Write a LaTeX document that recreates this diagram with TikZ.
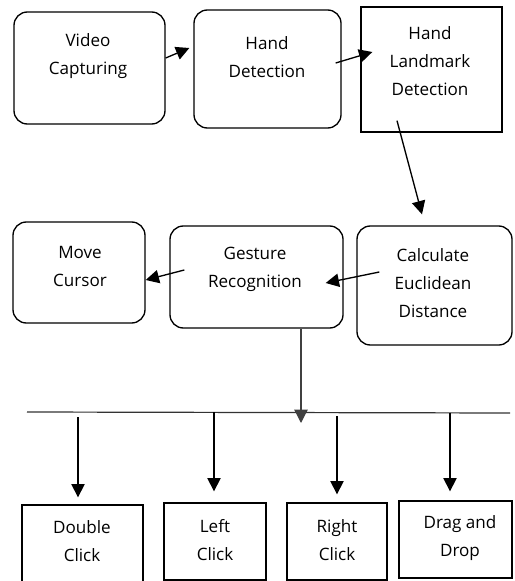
\documentclass[tikz,border=0pt]{standalone}
\usepackage{fontspec}
\setmainfont{Open Sans}
\usetikzlibrary{arrows.meta,calc}
\begin{document}
\begin{tikzpicture}[x=0.75pt,y=-0.75pt,
  box/.style={draw,line width=1pt,inner sep=0pt},
  rbox/.style={box,rounded corners=10pt},
  txt/.style={align=center,font=\fontsize{12.8}{21}\selectfont,inner sep=0pt},
  arr/.style={line width=1pt,-{Triangle[length=10pt,width=10pt]}},
  bus/.style={line width=0.9pt,draw=black!80}]
\useasboundingbox (0,0) rectangle (514,581);
\begin{scope}
\clip (0,0) rectangle (514,581);
% boxes
\node[rbox,minimum width=151*0.75pt,minimum height=112*0.75pt] (vc) at (89.5,68) {};
\node[rbox,minimum width=147*0.75pt,minimum height=118*0.75pt] (hd) at (267.5,69) {};
\node[box,minimum width=141*0.75pt,minimum height=125*0.75pt] (hl) at (431.5,69.5) {};
\node[rbox,minimum width=132*0.75pt,minimum height=101*0.75pt] (mc) at (79,272.5) {};
\node[rbox,minimum width=173*0.75pt,minimum height=102*0.75pt] (gr) at (256.5,277) {};
\node[rbox,minimum width=155*0.75pt,minimum height=119*0.75pt] (ce) at (434.5,285.5) {};
\node[box,minimum width=121*0.75pt,minimum height=80*0.75pt] (dc) at (82.5,545) {};
\node[box,minimum width=102*0.75pt,minimum height=77*0.75pt] (lc) at (215,541.5) {};
\node[box,minimum width=100*0.75pt,minimum height=77*0.75pt] (rc) at (337,541.5) {};
\node[box,minimum width=113*0.75pt,minimum height=77*0.75pt] (dd) at (455.5,539.5) {};
% texts
\node[txt] (tvc) at (88,56) {Video\\Capturing};
\node[txt] (thd) at (267,57) {Hand\\Detection};
\node[txt] (thl) at (430,61) {Hand\\Landmark\\Detection};
\node[txt] (tmc) at (80,266) {Move\\Cursor};
\node[txt] (tgr) at (255,269) {Gesture\\Recognition};
\node[txt] (tce) at (433,283) {Calculate\\Euclidean\\Distance};
\node[txt] (tdc) at (82,541) {Double\\Click};
\node[txt] (tlc) at (215,540) {Left\\Click};
\node[txt] (trc) at (337,540) {Right\\Click};
\node[txt] (tdd) at (460,538) {Drag and\\Drop};
% bus
\coordinate (busL) at (27,412);
\coordinate (busR) at (510,413);
\draw[bus] (busL) -- (busR);
\coordinate (b1) at (78,417);
\coordinate (b2) at (214,412);
\coordinate (b3) at (337,416);
\coordinate (b4) at (450,412.5);
% connectors
\draw[arr] ($(vc.east)+(0,-10)$) -- ($(hd.west)+(-4,-21)$);
\draw[arr] ($(hd.east)+(-6,-6)$) -- ($(hl.west)+(12,-17.5)$);
\draw[arr] ($(hl.south)+(-34.5,-12)$) -- ($(ce.north)+(-12.5,-11)$);
\draw[arr] ($(ce.west)+(23,-13.5)$) -- ($(gr.east)+(-18,6)$);
\draw[arr] ($(gr.west)+(15,-7)$) -- ($(mc.east)+(0,7.5)$);
\draw[arr,draw=black!75] ($(gr.south)+(44.5,0)$) -- (301,423);
\draw[arr] (b1) -- ($(dc.north)+(-4.5,-7)$);
\draw[arr] (b2) -- ($(lc.north)+(-1,-11)$);
\draw[arr] (b3) -- ($(rc.north)+(0,-8)$);
\draw[arr] (b4) -- ($(dd.north)+(-5.5,-9)$);
\end{scope}
\end{tikzpicture}
\end{document}
